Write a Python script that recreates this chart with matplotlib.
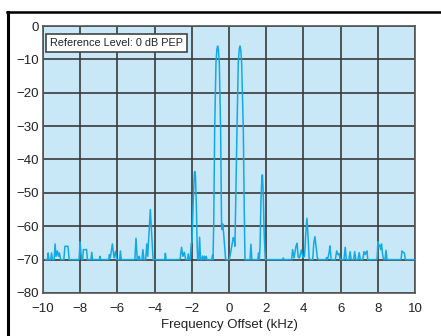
import matplotlib
matplotlib.use("Agg")
import matplotlib.pyplot as plt
from matplotlib.lines import Line2D

plt.rcParams['font.family'] = ['Liberation Sans', 'DejaVu Sans']

# spectrum trace vertices (kHz, dB)
freq_khz = [
    -9.85, -9.76, -9.72, -9.68, -9.58, -9.54, -9.49, -9.40, -9.35, -9.30,
    -9.23, -9.17, -9.12, -9.05, -8.88, -8.82, -8.66, -8.59, -8.06, -8.01,
    -7.93, -7.87, -7.83, -7.66, -7.61, -7.42, -7.38, -7.33, -6.97, -6.94,
    -6.90, -6.47, -6.43, -6.38, -6.27, -6.18, -6.10, -6.04, -5.88, -5.84,
    -5.79, -5.06, -5.00, -4.93, -4.86, -4.83, -4.78, -4.68, -4.63, -4.57,
    -4.48, -4.42, -4.37, -4.30, -4.23, -4.16, -4.08, -3.46, -3.42, -3.38,
    -2.66, -2.62, -2.55, -2.48, -2.40, -2.33, -2.23, -2.19, -2.14, -2.08,
    -2.03, -1.99, -1.92, -1.86, -1.83, -1.80, -1.75, -1.71, -1.68, -1.63,
    -1.58, -1.53, -1.47, -1.42, -1.38, -1.32, -1.27, -1.23, -1.18, -0.93,
    -0.88, -0.86, -0.82, -0.77, -0.70, -0.65, -0.61, -0.57, -0.52, -0.45,
    -0.40, -0.37, -0.34, -0.29, -0.18, 0.02, 0.23, 0.28, 0.32, 0.37,
    0.43, 0.50, 0.55, 0.59, 0.63, 0.68, 0.77, 0.82, 0.86, 1.13,
    1.18, 1.23, 1.55, 1.59, 1.63, 1.67, 1.72, 1.77, 1.80, 1.84,
    1.89, 1.95, 2.90, 2.92, 2.95, 3.37, 3.42, 3.50, 3.60, 3.66,
    3.72, 3.79, 3.89, 3.97, 4.06, 4.12, 4.19, 4.25, 4.31, 4.37,
    4.50, 4.56, 4.62, 4.68, 4.75, 4.80, 5.20, 5.25, 5.30, 5.38,
    5.43, 5.49, 5.72, 5.79, 5.86, 5.92, 5.97, 6.18, 6.25, 6.31,
    6.45, 6.51, 6.57, 6.70, 6.76, 6.82, 6.94, 7.00, 7.06, 7.19,
    7.26, 7.32, 7.37, 7.42, 7.46, 7.96, 8.01, 8.07, 8.12, 8.16,
    8.20, 8.27, 8.33, 8.39, 8.44, 8.50, 9.25, 9.30, 9.36, 9.43,
    9.48, 9.95,
]
level_db = [
    -70, -70, -68, -70, -70, -68, -70, -70, -65.3, -69,
    -67.4, -69, -68, -70, -70, -66, -66, -70, -70, -64.6,
    -70, -70, -67, -67, -70, -70, -67.8, -70, -70, -69,
    -70, -70, -68.5, -69.5, -65.3, -69.5, -67.5, -70, -70, -67.4,
    -70, -70, -63.6, -70, -70, -69, -70, -70, -67, -70,
    -70, -65.3, -69, -62, -55, -62, -70, -70, -68.1, -70,
    -70, -69.5, -66.3, -69, -67.8, -70, -70, -68.3, -70, -70,
    -65.1, -65, -52, -44, -43.6, -45, -55, -66, -70, -70,
    -63.3, -70, -70, -68.9, -70, -69, -70, -69, -70, -70,
    -68.6, -70, -59, -31, -11, -7, -6, -7, -11, -31,
    -59.5, -61, -59.3, -62, -70, -70, -63.4, -64, -66, -50,
    -31, -11, -7, -6, -7, -11, -31, -55, -70, -70,
    -65.4, -70, -70, -68, -70, -66, -52, -45, -44.6, -50,
    -62, -70, -70, -69.5, -70, -70, -67, -69.5, -66, -65.1,
    -69.2, -69.5, -67.1, -69.4, -69, -63, -57.6, -63, -69.7, -70,
    -70, -65, -63.1, -66, -69.4, -70, -70, -69.4, -70, -68,
    -65.9, -70, -70, -67.4, -68.5, -68.2, -70, -70, -66.3, -70,
    -70, -67.6, -70, -70, -67.6, -70, -70, -67.9, -70, -70,
    -67.6, -68.5, -67.8, -67.4, -70, -70, -64.6, -66, -65.9, -67,
    -65.3, -69, -70, -70, -67.2, -70, -70, -67.4, -67.8, -68,
    -70, -70,
]

x_ticks = list(range(-10, 11, 2))
y_ticks = list(range(-80, 1, 10))
ref_note = "Reference Level: 0 dB PEP"
x_title = "Frequency Offset (kHz)"

fig = plt.figure(figsize=(4.41, 3.36), dpi=100)
ax = fig.add_axes([0.0975, 0.128, 0.8435, 0.7946])
ax.set_facecolor('#c8e8f8')

ax.plot(freq_khz, level_db, color='#12aae6', linewidth=1.1, zorder=3)

ax.set_xlim(-10, 10)
ax.set_ylim(-80, 0)
ax.set_xticks(x_ticks)
ax.set_yticks(y_ticks)
ax.set_xticklabels([str(t).replace('-', '\u2212') for t in x_ticks])
ax.set_yticklabels([str(t).replace('-', '\u2212') for t in y_ticks])
ax.tick_params(length=0, labelsize=9.5, colors='#222222')
ax.tick_params(axis='x', pad=7)
ax.tick_params(axis='y', pad=3)
ax.grid(True, color='#3a3a3a', linewidth=1.2, zorder=1)
ax.set_axisbelow(True)
for s in ax.spines.values():
    s.set_color('#555555')
    s.set_linewidth(1.2)

ax.set_xlabel(x_title, fontsize=9.5, color='#222222', labelpad=3)

ax.text(0.1976, 0.936, ref_note, transform=ax.transAxes, ha='center', va='center',
        fontsize=7.8, color='#222222', zorder=5,
        bbox=dict(boxstyle='square,pad=0.35', facecolor='white',
                  edgecolor='#444444', linewidth=1.2))

# outer frame (left and top only)
fig.add_artist(Line2D([7.8 / 441, 7.8 / 441], [0, 1 - 11.5 / 336],
                      transform=fig.transFigure, color='black', linewidth=2.2))
fig.add_artist(Line2D([7 / 441, 1], [1 - 11.5 / 336, 1 - 11.5 / 336],
                      transform=fig.transFigure, color='black', linewidth=1.8))

fig.savefig('out.png', dpi=100)
